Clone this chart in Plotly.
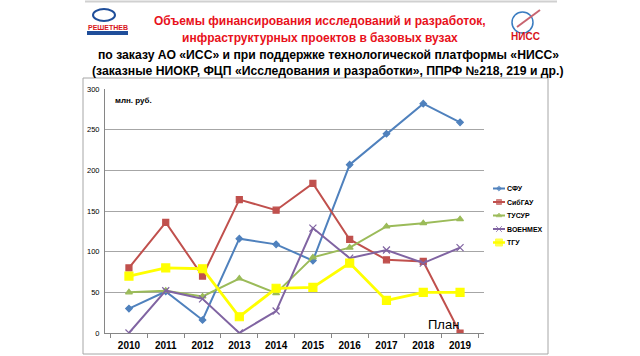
import plotly.graph_objects as go

years = ["2010", "2011", "2012", "2013", "2014", "2015", "2016", "2017", "2018", "2019"]
sfu = [30, 51, 16, 116, 109, 89, 207, 245, 282, 259]
sibgau = [80, 136, 70, 164, 151, 184, 115, 90, 88, 0]
tusur = [50, 52, 45, 67, 49, 93, 105, 131, 135, 140]
voenmeh = [0, 52, 42, 0, 27, 129, 92, 102, 86, 105]
tgu = [70, 80, 79, 20, 55, 56, 86, 40, 50, 50]
y_ticks = [0, 50, 100, 150, 200, 250, 300]
names = ["СФУ", "СибГАУ", "ТУСУР", "ВОЕНМЕХ", "ТГУ"]

styles = [
    ("#4F81BD", "diamond", 5, 2),
    ("#C0504D", "square", 6, 2),
    ("#9BBB59", "triangle-up", 6, 2),
    ("#8064A2", "x-thin-open", 7, 2),
    ("#FFFF00", "square", 8, 2.8),
]
values = [sfu, sibgau, tusur, voenmeh, tgu]

W, H = 640, 356
L, R, T, B = 105, 484, 89, 333

def px(x):
    return x / W

def py(y):
    return 1 - y / H

fig = go.Figure()
for name, vals, (col, sym, sz, lw) in zip(names, values, styles):
    fig.add_trace(go.Scatter(
        x=years, y=vals, name=name, mode="lines+markers",
        line=dict(color=col, width=lw),
        marker=dict(symbol=sym, size=sz, color=col, line=dict(color=col, width=1.2)),
        showlegend=False,
    ))

# compact legend drawn on its own small axes
leg_y = [188.5, 202, 215.5, 229, 242.5]
for i, (name, (col, sym, sz, lw)) in enumerate(zip(names, styles)):
    fig.add_trace(go.Scatter(
        x=[0, 0.5, 1], y=[i, i, i], mode="lines+markers", xaxis="x2", yaxis="y2",
        line=dict(color=col, width=min(lw, 2.5)),
        marker=dict(symbol=sym, size=[0, sz - 1, 0], color=col, line=dict(color=col, width=1)),
        showlegend=False, hoverinfo="skip",
    ))

shapes = [
    dict(type="rect", xref="paper", yref="paper",
         x0=px(83), x1=px(548), y0=py(354), y1=py(78),
         line=dict(color="#A6A6A6", width=1)),
    dict(type="line", xref="paper", yref="paper",
         x0=px(85), x1=px(557), y0=py(1.5), y1=py(1.5),
         line=dict(color="#D0D0D0", width=2)),
    # left logo
    dict(type="circle", xref="paper", yref="paper",
         x0=px(93), x1=px(115), y0=py(21), y1=py(9),
         line=dict(color="#1F4E9A", width=2)),
    dict(type="rect", xref="paper", yref="paper",
         x0=px(87), x1=px(128), y0=py(35), y1=py(31),
         fillcolor="#1F4E9A", line=dict(width=0)),
    # right logo
    dict(type="circle", xref="paper", yref="paper",
         x0=px(512), x1=px(533), y0=py(33), y1=py(12),
         line=dict(color="#3A7CC0", width=1.5)),
    dict(type="line", xref="paper", yref="paper",
         x0=px(517), x1=px(540), y0=py(27), y1=py(10),
         line=dict(color="#C86470", width=2)),
]

ann = []
def text(x, y, s, size, color="black", bold=True, xanchor="center"):
    ann.append(dict(xref="paper", yref="paper", x=px(x), y=py(y),
                    text=("<b>%s</b>" % s) if bold else s,
                    showarrow=False, xanchor=xanchor, yanchor="middle",
                    font=dict(size=size, color=color, family="Liberation Sans")))

text(320, 21, "Объемы финансирования исследований и разработок,", 12, "#E8111B")
text(320, 38, "инфраструктурных проектов в базовых вузах", 12, "#E8111B")
text(328, 55, "по заказу АО «ИСС» и при поддержке технологической платформы «НИСС»", 12.2)
text(328, 71, "(заказные НИОКР, ФЦП «Исследования и разработки», ППРФ №218, 219 и др.)", 12.2)
text(108, 27, "РЕШЕТНЕВ", 7, "#D7141A")
text(525, 36, "НИСС", 10, "#D7141A")
text(113, 100, "млн. руб.", 8, xanchor="left")
text(443, 324, "План", 13, bold=False)
for name, yy in zip(names, leg_y):
    text(505, yy, name, 7, xanchor="left")

fig.update_layout(
    width=W, height=H,
    margin=dict(l=0, r=0, t=0, b=0, autoexpand=False),
    paper_bgcolor="white", plot_bgcolor="white",
    font=dict(family="Liberation Sans", color="black"),
    shapes=shapes, annotations=ann,
    showlegend=False,
    xaxis=dict(type="category", domain=[px(L), px(R)], anchor="y",
               showgrid=False, showline=True, linecolor="#868686",
               ticks="outside", ticklen=4, tickcolor="#868686", tickson="boundaries",
               ticklabelstandoff=3,
               tickfont=dict(size=10, family="Liberation Sans", color="black"),
               tickprefix="<b>", ticksuffix="</b>"),
    yaxis=dict(range=[0, 300], domain=[py(B), py(T)], anchor="x",
               tickvals=y_ticks, showgrid=True, gridcolor="#A6A6A6",
               showline=True, linecolor="#868686", zeroline=False,
               ticklabelstandoff=3,
               tickfont=dict(size=7.5, family="Liberation Sans", color="black"),
               tickprefix="<b>", ticksuffix="</b>", ticks=""),
    xaxis2=dict(domain=[px(493), px(505)], range=[0, 1], anchor="y2",
                visible=False, fixedrange=True),
    yaxis2=dict(domain=[py(leg_y[-1] + 6.75), py(leg_y[0] - 6.75)], range=[4.5, -0.5],
                anchor="x2", visible=False, fixedrange=True),
)

fig.write_html("out.html", config={"displayModeBar": False},
               post_script="document.body.style.margin='0';document.body.style.overflow='hidden';")
